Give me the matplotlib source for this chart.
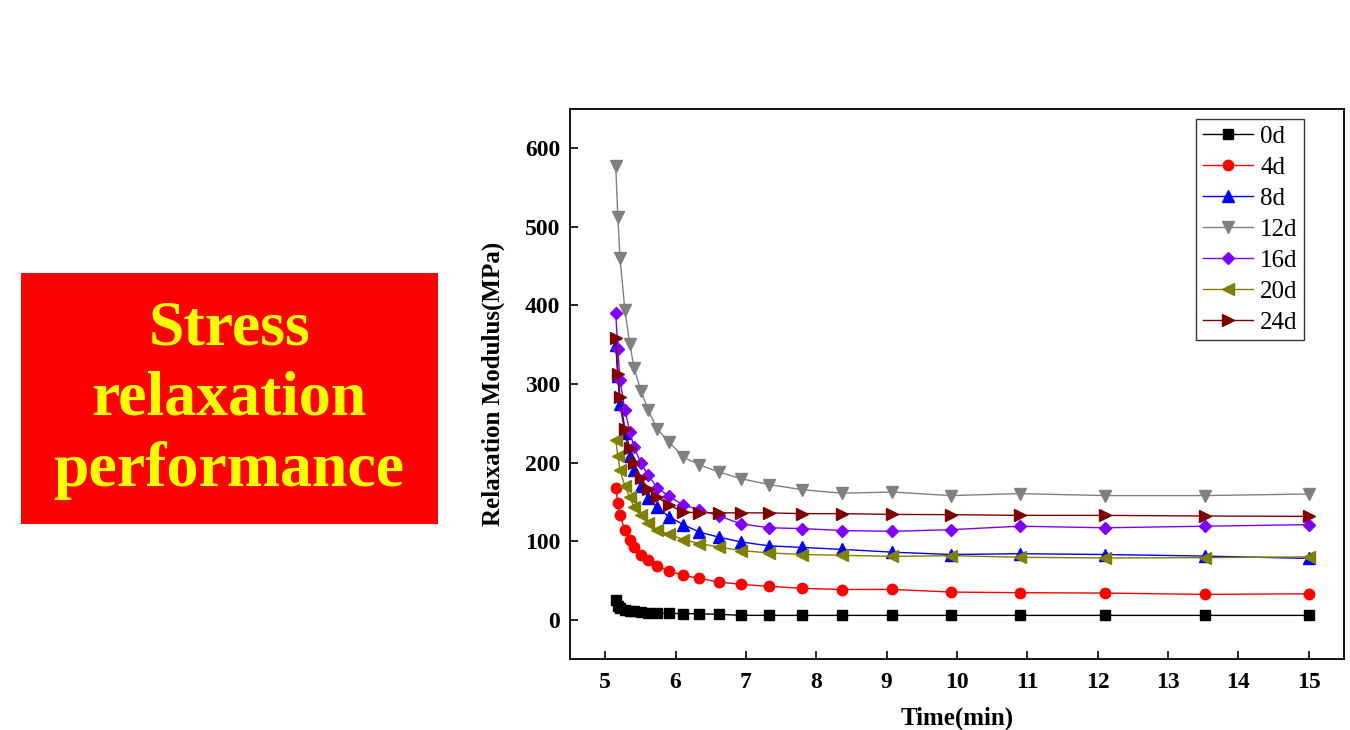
import matplotlib.pyplot as plt
import matplotlib.patches as patches

plt.rcParams["font.family"] = ["Liberation Serif", "DejaVu Serif"]

# sampling times (min), shared by all series
time_min = [5.15, 5.18, 5.21, 5.28, 5.35, 5.41, 5.51, 5.61, 5.74, 5.91, 6.11, 6.34,
            6.62, 6.93, 7.33, 7.80, 8.37, 9.08, 9.91, 10.89, 12.10, 13.52, 15.0]

mod_0d = [25, 18, 15, 13, 11.5, 10.5, 9.5, 8.8, 8.3, 8.0, 7.8, 7.6,
          6.8, 5.6, 5.5, 5.5, 5.5, 5.5, 5.5, 5.5, 5.5, 5.5, 5.5]
mod_4d = [168, 148, 133, 114, 101, 92, 82, 75.5, 68, 62, 56.5, 52.5,
          48, 45, 42.4, 40, 38.4, 38.6, 35.2, 34.4, 33.9, 32.2, 33]
mod_8d = [350, 310, 275, 238, 208, 190, 170, 155, 143, 131, 121, 111.5,
          105, 99, 94, 92, 89.5, 86, 83, 84, 83, 81, 78]
mod_12d = [578, 512, 461, 394, 351, 321, 291, 267, 243, 226, 207, 197,
           188, 179.5, 172, 165.5, 161, 162.5, 158, 160.5, 158, 158, 160]
mod_16d = [390, 344, 305, 267, 239, 220, 199, 184, 168, 157, 146, 140,
           132, 122, 117, 116, 113.5, 112.5, 114.6, 119, 117, 119, 121]
mod_20d = [229, 208, 191, 170, 156, 143, 133, 123, 114, 108.6, 102, 97,
           92.4, 88, 85, 83, 82, 80.6, 81.5, 79.5, 78.5, 79, 80]
mod_24d = [358, 313, 284, 243, 218, 199, 180, 167, 156, 146, 137, 136,
           136, 136, 136, 135, 135, 134, 133.7, 132.8, 132.8, 132, 131.5]

series = [
    ("0d", mod_0d, "black", "s", 7),
    ("4d", mod_4d, "#ff0000", "o", 7.5),
    ("8d", mod_8d, "#0000ff", "^", 8),
    ("12d", mod_12d, "#808080", "v", 8),
    ("16d", mod_16d, "#8000ff", "D", 6.5),
    ("20d", mod_20d, "#808000", "<", 8),
    ("24d", mod_24d, "#800000", ">", 8),
]

fig = plt.figure(figsize=(13.5, 7.3), dpi=100)

# red title box on the left
fig.patches.append(patches.Rectangle((21 / 1350, 1 - 524 / 730), 417 / 1350, 251 / 730,
                                     transform=fig.transFigure, facecolor="#ff0000",
                                     edgecolor="none"))
fig.text(229 / 1350, 1 - 400 / 730, "Stress\nrelaxation\nperformance",
         ha="center", va="center", color="#ffff00", fontsize=46,
         fontweight="bold", linespacing=1.28)

ax = fig.add_axes([570 / 1350, 71 / 730, 774 / 1350, 550 / 730])

for label, vals, color, marker, ms in series:
    ax.plot(time_min, vals, color=color, marker=marker, markersize=ms,
            linewidth=1.0, label=label)

ax.set_xlim(4.5, 15.5)
ax.set_ylim(-50, 650)
ax.set_xticks(range(5, 16))
ax.set_yticks(range(0, 601, 100))
ax.tick_params(direction="in", length=6, width=1.2, labelsize=17)
ax.tick_params(axis="x", pad=9)
ax.tick_params(axis="y", pad=7)
for lab in ax.get_xticklabels() + ax.get_yticklabels():
    lab.set_fontweight("bold")
for sp in ax.spines.values():
    sp.set_linewidth(1.3)

ax.set_xlabel("Time(min)", fontsize=18, fontweight="bold", labelpad=10)
ax.set_ylabel("Relaxation Modulus(MPa)", fontsize=18, fontweight="bold", labelpad=14)

leg = ax.legend(loc="upper right", bbox_to_anchor=(0.948, 0.982), fontsize=18,
                frameon=True, fancybox=False, edgecolor="black", handlelength=2.0,
                borderaxespad=0, labelspacing=0.34, handletextpad=0.3,
                borderpad=0.25, markerscale=1.0)
leg.get_frame().set_linewidth(1.0)

fig.savefig("out.png", dpi=100)
